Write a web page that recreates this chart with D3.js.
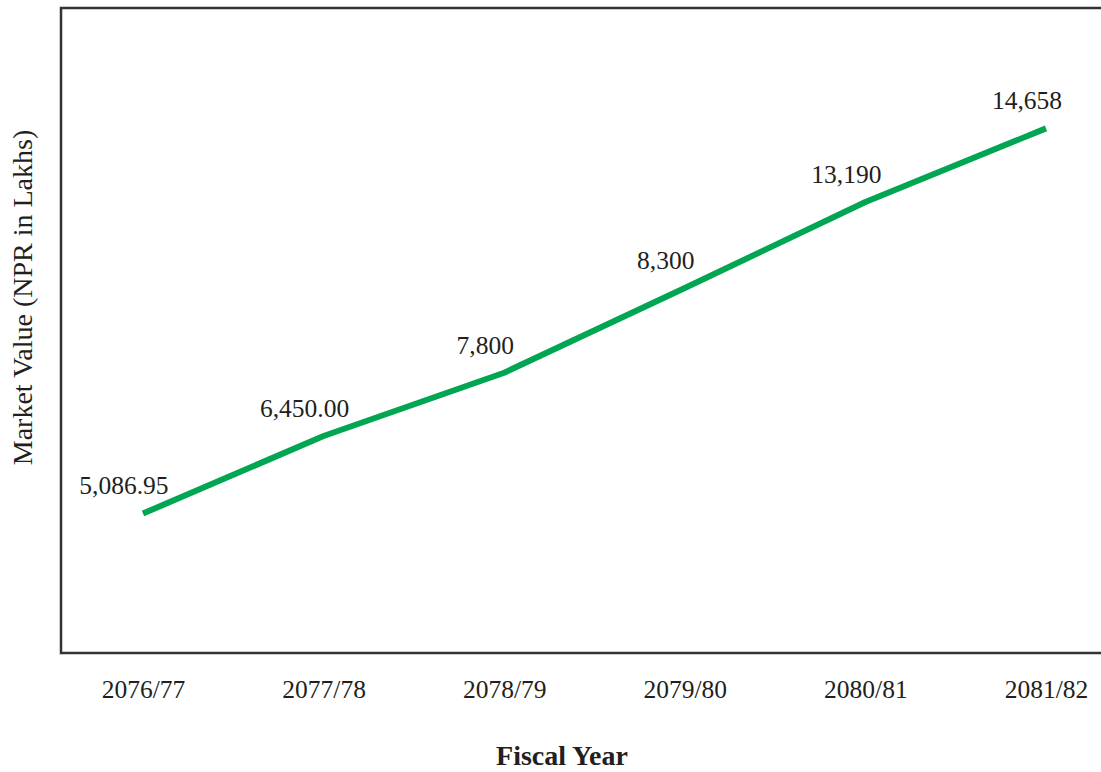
<!DOCTYPE html>
<html>
<head>
<meta charset="utf-8">
<script src="https://cdn.jsdelivr.net/npm/d3@7"></script>
<style>
  html, body { margin: 0; padding: 0; background: #fff; }
  svg { display: block; }
</style>
</head>
<body>
<svg id="chart" width="1101" height="772"></svg>
<script>
// ---- data ----
const fiscalYears = ["2076/77", "2077/78", "2078/79", "2079/80", "2080/81", "2081/82"];
// plotted line values
const marketValues = [5087, 7013, 8586, 10691, 12829, 14658];
// data labels as printed on the chart
const valueLabels = ["5,086.95", "6,450.00", "7,800", "8,300", "13,190", "14,658"];
const yDomain = [1620, 17650];

// ---- layout ----
const W = 1101, H = 772;
const frame = { left: 61, top: 8, right: 1128, bottom: 653 };
const serif = "'Liberation Serif', 'Times New Roman', Times, serif";

const svg = d3.select("#chart");

const x = d3.scalePoint()
  .domain(fiscalYears)
  .range([frame.left, frame.right])
  .padding(0.454);

const y = d3.scaleLinear()
  .domain(yDomain)
  .range([frame.bottom, frame.top]);

// frame
svg.append("rect")
  .attr("x", frame.left)
  .attr("y", frame.top)
  .attr("width", frame.right - frame.left)
  .attr("height", frame.bottom - frame.top)
  .attr("fill", "none")
  .attr("stroke", "#333")
  .attr("stroke-width", 2.5);

// x axis (labels only)
const xAxis = d3.axisBottom(x).tickSize(0).tickPadding(0);
const gx = svg.append("g")
  .attr("transform", `translate(0,${frame.bottom})`)
  .call(xAxis);
gx.select(".domain").remove();
gx.selectAll("text")
  .attr("y", 45)
  .attr("dy", 0)
  .attr("font-family", serif)
  .attr("font-size", 25.5)
  .attr("fill", "#231f20");

// line
const line = d3.line()
  .x((d, i) => x(fiscalYears[i]))
  .y(d => y(d));

svg.append("path")
  .datum(marketValues)
  .attr("d", line)
  .attr("fill", "none")
  .attr("stroke", "#00a651")
  .attr("stroke-width", 6)
  .attr("stroke-linejoin", "round");

// data labels
svg.append("g")
  .selectAll("text")
  .data(marketValues)
  .join("text")
  .attr("x", (d, i) => x(fiscalYears[i]) - 19)
  .attr("y", d => y(d) - 19)
  .attr("text-anchor", "middle")
  .attr("font-family", serif)
  .attr("font-size", 25.5)
  .attr("fill", "#231f20")
  .text((d, i) => valueLabels[i]);

// axis titles
svg.append("text")
  .attr("x", 562)
  .attr("y", 765)
  .attr("text-anchor", "middle")
  .attr("font-family", serif)
  .attr("font-weight", "bold")
  .attr("font-size", 28)
  .attr("fill", "#231f20")
  .text("Fiscal Year");

svg.append("text")
  .attr("transform", `translate(32,${(frame.top + frame.bottom) / 2 - 33}) rotate(-90)`)
  .attr("text-anchor", "middle")
  .attr("font-family", serif)
  .attr("font-size", 28)
  .attr("fill", "#231f20")
  .text("Market Value (NPR in Lakhs)");
</script>
</body>
</html>
